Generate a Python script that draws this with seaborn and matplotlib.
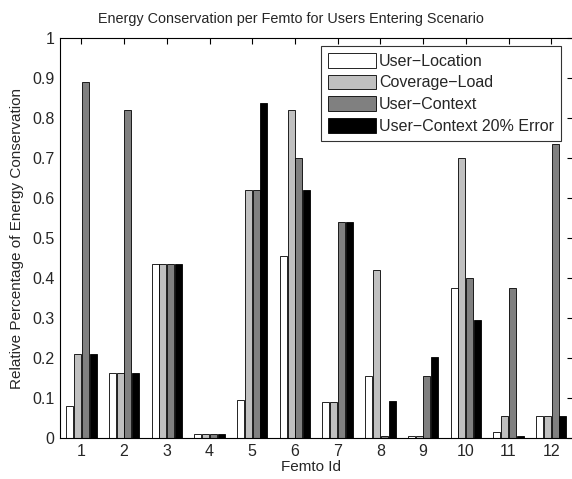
import matplotlib
matplotlib.use("Agg")
import matplotlib.pyplot as plt
import seaborn as sns
import pandas as pd

femto_ids = [str(i) for i in range(1, 13)]
series_names = ["User\u2212Location", "Coverage\u2212Load", "User\u2212Context", "User\u2212Context 20% Error"]
user_location = [0.08, 0.163, 0.435, 0.01, 0.097, 0.455, 0.092, 0.155, 0.007, 0.377, 0.017, 0.057]
coverage_load = [0.21, 0.163, 0.435, 0.01, 0.62, 0.822, 0.092, 0.42, 0.007, 0.70, 0.057, 0.057]
user_context = [0.89, 0.82, 0.435, 0.01, 0.62, 0.70, 0.542, 0.007, 0.155, 0.40, 0.377, 0.735]
user_context_err = [0.21, 0.163, 0.435, 0.01, 0.838, 0.62, 0.542, 0.093, 0.203, 0.296, 0.007, 0.057]
colors = ["#ffffff", "#c0c0c0", "#808080", "#000000"]

rows = []
for name, vals in zip(series_names, [user_location, coverage_load, user_context, user_context_err]):
    for f, v in zip(femto_ids, vals):
        rows.append({"Femto": f, "Method": name, "Value": v})
df = pd.DataFrame(rows)

sns.set_style("white")
plt.rcParams["font.family"] = ["Liberation Sans", "DejaVu Sans"]

fig = plt.figure(figsize=(5.72, 4.79), dpi=100)
ax = fig.add_axes([60 / 572, 1 - 438.3 / 479, 512.6 / 572, 400 / 479])
sns.barplot(data=df, x="Femto", y="Value", hue="Method", order=femto_ids,
            hue_order=series_names, palette=colors, width=0.73, gap=0.1,
            edgecolor="black", linewidth=0.6, ax=ax, legend=True)

ax.set_ylim(0, 1)
ax.set_xlim(-0.5, 11.5)
ax.set_yticks([i / 10 for i in range(11)])
ax.set_yticklabels(["0", "0.1", "0.2", "0.3", "0.4", "0.5", "0.6", "0.7", "0.8", "0.9", "1"])
ax.tick_params(direction="in", top=True, right=True, labelsize=11.5, length=4, color="black", pad=4)
for s in ax.spines.values():
    s.set_color("black")
    s.set_linewidth(0.8)
ax.set_xlabel("Femto Id", fontsize=11, labelpad=1, x=(311 - 60) / 512.6)
ax.set_ylabel("Relative Percentage of Energy Conservation", fontsize=11, labelpad=6)
ax.set_title("Energy Conservation per Femto for Users Entering Scenario", fontsize=10.4, pad=11,
             x=(291 - 60) / 512.6)
leg = ax.legend(loc="upper right", fontsize=11.5, frameon=True, fancybox=False,
                edgecolor="black", bbox_to_anchor=((561 - 60) / 512.6, 1 - 7.5 / 400),
                borderaxespad=0, handlelength=3.0, handleheight=1.05,
                labelspacing=0.36, handletextpad=0.2, borderpad=0.45)
leg.get_frame().set_linewidth(0.8)

fig.savefig("out.png", dpi=100)
